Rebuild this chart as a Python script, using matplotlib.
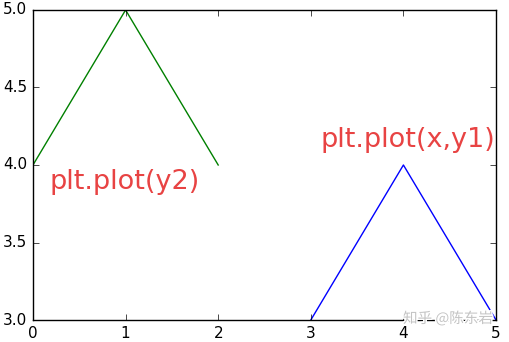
import matplotlib
matplotlib.use('Agg')
import matplotlib.pyplot as plt
import matplotlib.patheffects as pe

x = [3, 4, 5]
y1 = [3, 4, 3]
y2 = [4, 5, 4]

plt.style.use('classic')
fig = plt.figure(figsize=(5.09, 3.42), dpi=100)
fig.patch.set_facecolor('white')
ax = fig.add_axes([0.0648, 0.0643, 0.9097, 0.9065])

ax.plot(y2, color='green')
ax.plot(x, y1, color='blue')

ax.set_xlim(0, 5)
ax.set_ylim(3, 5)
ax.set_xticks([0, 1, 2, 3, 4, 5])
ax.set_yticks([3.0, 3.5, 4.0, 4.5, 5.0])
ax.tick_params(labelsize=11)

ax.text(0.18, 3.89, 'plt.plot(y2)', color='#e84343', fontsize=19.5, va='center')
ax.text(3.1, 4.16, 'plt.plot(x,y1)', color='#e84343', fontsize=19.5, va='center')

# watermark
ax.text(4.97, 3.01, '知乎 @陈东岩', color='#c4c4c4', fontsize=10.5, ha='right', va='center',
        family=['Noto Sans CJK SC', 'DejaVu Sans'],
        path_effects=[pe.withStroke(linewidth=2, foreground='white')])

fig.savefig('out.png', dpi=100, facecolor='white')
